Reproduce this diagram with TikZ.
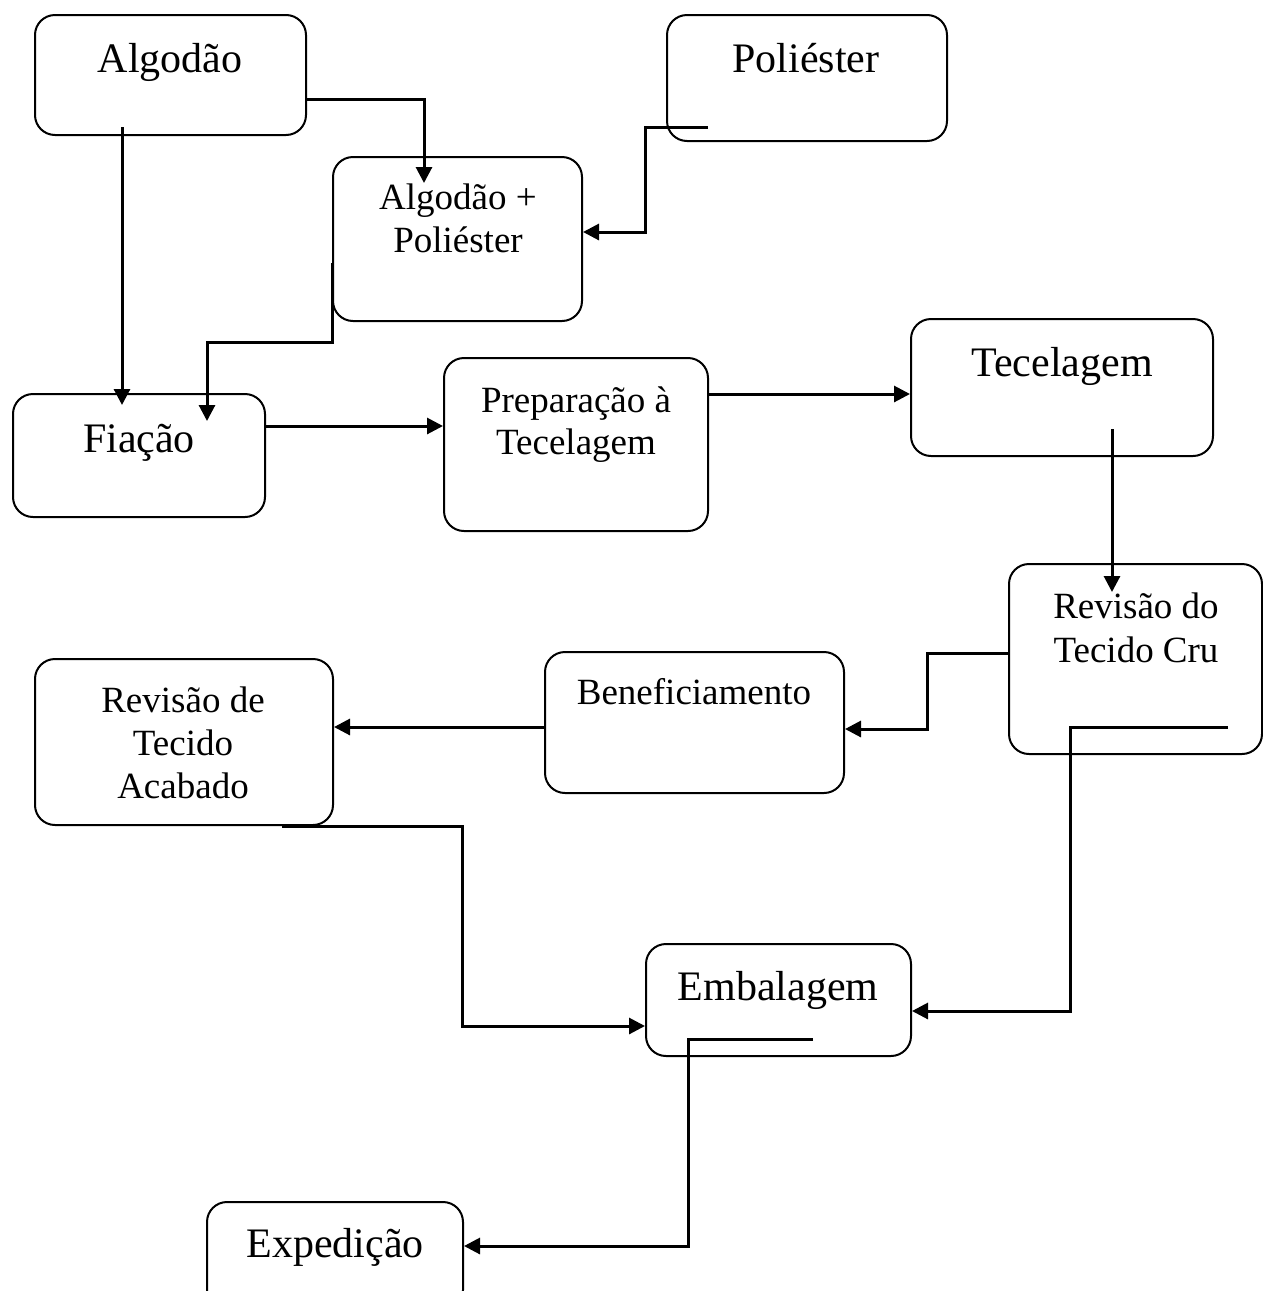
\documentclass[tikz,border=0pt]{standalone}
\usepackage{fontspec}
\setmainfont{Liberation Serif}
\usetikzlibrary{arrows.meta}
\tikzset{
  box/.style={draw=black, line width=2pt, rounded corners=20pt, inner sep=0pt, fill=none},
  big/.style={font=\fontsize{42}{48}\selectfont, anchor=base, inner sep=0pt},
  small/.style={font=\fontsize{37}{43}\selectfont, anchor=base, inner sep=0pt},
  arr/.style={line width=3pt, -{Triangle[length=16pt,width=16pt]}},
  ln/.style={line width=3pt}
}
\begin{document}
\begin{tikzpicture}[x=1pt,y=-1pt]
\useasboundingbox (0,0) rectangle (1263,1291);
% boxes
\node[box, minimum width=271pt, minimum height=120pt] (alg) at (170.5,75) {};
\node[box, minimum width=280pt, minimum height=126pt] (pol) at (807,78) {};
\node[box, minimum width=249pt, minimum height=164pt] (ap) at (457.5,239) {};
\node[box, minimum width=252pt, minimum height=123pt] (fia) at (139,455.5) {};
\node[box, minimum width=264pt, minimum height=173pt] (prep) at (576,444.5) {};
\node[box, minimum width=302pt, minimum height=137pt] (tec) at (1062,387.5) {};
\node[box, minimum width=253pt, minimum height=190pt] (rcru) at (1135.5,659) {};
\node[box, minimum width=299pt, minimum height=141pt] (ben) at (694.5,722.5) {};
\node[box, minimum width=298pt, minimum height=166pt] (rac) at (184,742) {};
\node[box, minimum width=265pt, minimum height=112pt] (emb) at (778.5,1000) {};
\node[box, minimum width=256pt, minimum height=108pt] (exp) at (335,1256) {};
% texts
\node[big] (algT) at (170,72) {Algodão};
\node[big] (polT) at (806,72) {Poliéster};
\node[small] (apT1) at (458,209) {Algodão +};
\node[small] (apT2) at (458,252) {Poliéster};
\node[big] (fiaT) at (139,452) {Fiação};
\node[small] (prepT1) at (576,412) {Preparação à};
\node[small] (prepT2) at (576,454) {Tecelagem};
\node[big] (tecT) at (1062,376) {Tecelagem};
\node[small] (rcruT1) at (1136,618) {Revisão do};
\node[small] (rcruT2) at (1136,662) {Tecido Cru};
\node[small] (benT) at (694,704) {Beneficiamento};
\node[small] (racT1) at (183,712) {Revisão de};
\node[small] (racT2) at (183,755) {Tecido};
\node[small] (racT3) at (183,798) {Acabado};
\node[big] (embT) at (778,1000) {Embalagem};
\node[big] (expT) at (335,1257) {Expedição};
% connector points
\coordinate (c1s) at (122,127);  \coordinate (c1e) at (122,405);
\coordinate (c2s) at (306,99);   \coordinate (c2e) at (424,183);
\coordinate (c3s) at (708,127);  \coordinate (c3m) at (645,232);
\coordinate (c4s) at (332,263);  \coordinate (c4m) at (207,342); \coordinate (c4e) at (207,421);
\coordinate (c5s) at (265,426);
\coordinate (c6s) at (708,394);
\coordinate (c7s) at (1112,429); \coordinate (c7e) at (1112,592);
\coordinate (c8s) at (1009,653); \coordinate (c8m) at (927,729);
\coordinate (c9s) at (545,727);
\coordinate (c10s) at (1228,727); \coordinate (c10m) at (1070,1011);
\coordinate (c11s) at (282,826);  \coordinate (c11m) at (462,1026);
\coordinate (c12s) at (813,1039); \coordinate (c12m) at (688,1246);
% connectors
\draw[arr] (c1s) -- (c1e);
\draw[arr] (c2s) -| (c2e);
\draw[arr] (c3s) -| (c3m) -- (c3m -| ap.east);
\draw[arr] (c4s) |- (c4m) -- (c4e);
\draw[arr] (c5s) -- (c5s -| prep.west);
\draw[arr] (c6s) -- (c6s -| tec.west);
\draw[arr] (c7s) -- (c7e);
\draw[arr] (c8s) -| (c8m) -- (c8m -| ben.east);
\draw[arr] (c9s) -- (c9s -| rac.east);
\draw[arr] (c10s) -| (c10m) -- (c10m -| emb.east);
\draw[arr] (c11s) -| (c11m) -- (c11m -| emb.west);
\draw[arr] (c12s) -| (c12m) -- (c12m -| exp.east);
\end{tikzpicture}
\end{document}
